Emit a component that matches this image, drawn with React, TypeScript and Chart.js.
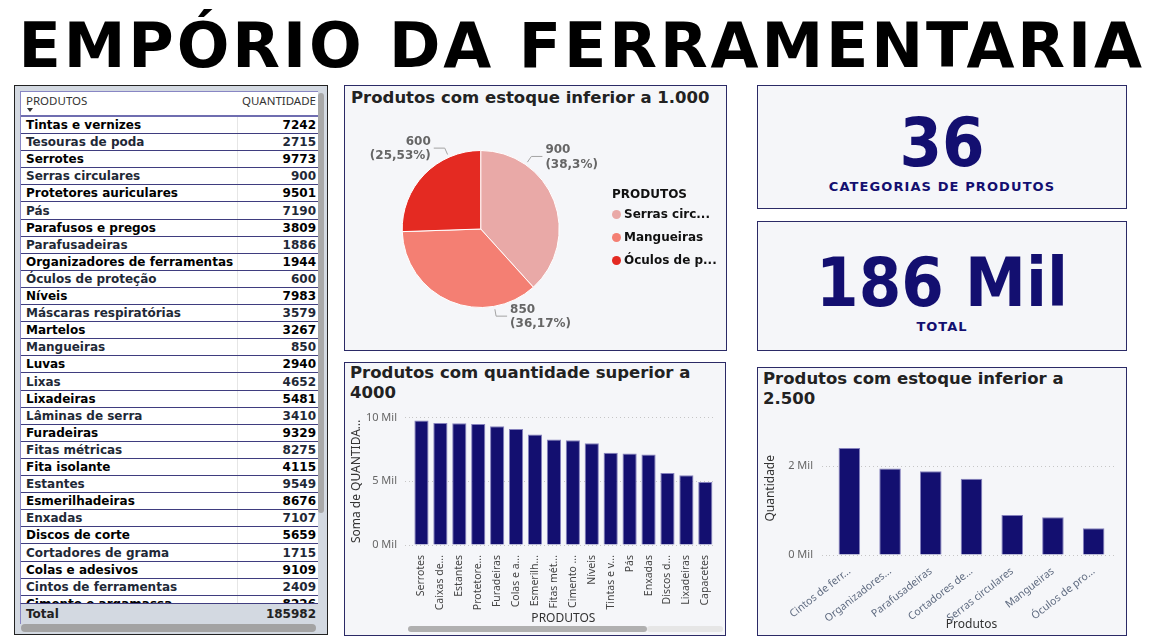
import React, { useEffect, useRef } from 'react';
import Chart from 'chart.js/auto';

// ---------- DATA ----------
const TABLE_PRODUCTS = [
  'Tintas e vernizes', 'Tesouras de poda', 'Serrotes', 'Serras circulares', 'Protetores auriculares',
  'Pás', 'Parafusos e pregos', 'Parafusadeiras', 'Organizadores de ferramentas', 'Óculos de proteção',
  'Níveis', 'Máscaras respiratórias', 'Martelos', 'Mangueiras', 'Luvas', 'Lixas', 'Lixadeiras',
  'Lâminas de serra', 'Furadeiras', 'Fitas métricas', 'Fita isolante', 'Estantes', 'Esmerilhadeiras',
  'Enxadas', 'Discos de corte', 'Cortadores de grama', 'Colas e adesivos', 'Cintos de ferramentas',
  'Cimento e argamassa',
];
const TABLE_QTY = [
  7242, 2715, 9773, 900, 9501, 7190, 3809, 1886, 1944, 600, 7983, 3579, 3267, 850, 2940, 4652, 5481,
  3410, 9329, 8275, 4115, 9549, 8676, 7107, 5659, 1715, 9109, 2409, 8226,
];
const TABLE_TOTAL = 185982;
const CATEGORY_COUNT = 36;

const PIE_PRODUCTS = ['Serras circulares', 'Mangueiras', 'Óculos de proteção'];
const PIE_LEGEND = ['Serras circ...', 'Mangueiras', 'Óculos de p...'];
const PIE_VALUES = [900, 850, 600];

const TOP_PRODUCTS = [
  'Serrotes', 'Caixas de ferramentas', 'Estantes', 'Protetores auriculares', 'Furadeiras',
  'Colas e adesivos', 'Esmerilhadeiras', 'Fitas métricas', 'Cimento e argamassa', 'Níveis',
  'Tintas e vernizes', 'Pás', 'Enxadas', 'Discos de corte', 'Lixadeiras', 'Capacetes',
];
const TOP_TICKS = [
  'Serrotes', 'Caixas de...', 'Estantes', 'Protetore...', 'Furadeiras', 'Colas e a...', 'Esmerilh...',
  'Fitas mét...', 'Cimento ...', 'Níveis', 'Tintas e v...', 'Pás', 'Enxadas', 'Discos d...',
  'Lixadeiras', 'Capacetes',
];
const TOP_VALUES = [9773, 9570, 9549, 9501, 9329, 9109, 8676, 8275, 8226, 7983, 7242, 7190, 7107, 5659, 5481, 4950];

const LOW_PRODUCTS = [
  'Cintos de ferramentas', 'Organizadores de ferramentas', 'Parafusadeiras', 'Cortadores de grama',
  'Serras circulares', 'Mangueiras', 'Óculos de proteção',
];
const LOW_TICKS = [
  'Cintos de ferr...', 'Organizadores...', 'Parafusadeiras', 'Cortadores de...', 'Serras circulares',
  'Mangueiras', 'Óculos de pro...',
];
const LOW_VALUES = [2409, 1944, 1886, 1715, 900, 850, 600];

// ---------- STYLE ----------
const NAVY = '#130f70';
const BAR_EDGE = '#8581bd';
const PIE_COLORS = ['#e9a9a7', '#f47f73', '#e42a22'];
const PIE_LABEL_SHIFT_DEG = [-34, -33, 22];
const PANEL_BG = '#f5f6f9';
const PANEL_BORDER = '#2b2a66';
const DEJAVU = '"DejaVu Sans", Verdana, sans-serif';
const NOTO = '"Noto Sans", "Open Sans", sans-serif';

const milTick = (v: any) => `${Number(v) / 1000} Mil`;

const pieLabelPlugin = {
  id: 'pieLabels',
  afterDatasetsDraw(chart: any) {
    const meta = chart.getDatasetMeta(0);
    const values: number[] = chart.data.datasets[0].data;
    const total = values.reduce((a, b) => a + b, 0);
    const ctx = chart.ctx;
    ctx.save();
    meta.data.forEach((arc: any, i: number) => {
      const p = arc.getProps(['x', 'y', 'startAngle', 'endAngle', 'outerRadius'], true);
      const a = (p.startAngle + p.endAngle) / 2 + (PIE_LABEL_SHIFT_DEG[i] * Math.PI) / 180;
      const c = Math.cos(a);
      const s = Math.sin(a);
      const x0 = p.x + c * (p.outerRadius + 3);
      const y0 = p.y + s * (p.outerRadius + 3);
      const x1 = p.x + c * (p.outerRadius + 10);
      const y1 = p.y + s * (p.outerRadius + 10);
      const dir = c >= 0 ? 1 : -1;
      const x2 = x1 + dir * 11;
      ctx.strokeStyle = '#a3a3a3';
      ctx.lineWidth = 1;
      ctx.beginPath();
      ctx.moveTo(x0, y0);
      ctx.lineTo(x1, y1);
      ctx.lineTo(x2, y1);
      ctx.stroke();
      ctx.fillStyle = '#666666';
      ctx.font = `bold 12px ${DEJAVU}`;
      ctx.textAlign = dir > 0 ? 'left' : 'right';
      ctx.textBaseline = 'middle';
      const pct = ((values[i] / total) * 100).toFixed(2).replace(/\.?0+$/, '').replace('.', ',');
      ctx.fillText(String(values[i]), x2 + dir * 3, y1 - 6.5);
      ctx.fillText(`(${pct}%)`, x2 + dir * 3, y1 + 8);
    });
    ctx.restore();
  },
};

function ChartBox({ style, build }: { style: React.CSSProperties; build: () => any }) {
  const ref = useRef<HTMLCanvasElement | null>(null);
  useEffect(() => {
    const chart = new Chart(ref.current as HTMLCanvasElement, build());
    return () => chart.destroy();
  }, []);
  return (
    <div style={{ position: 'absolute', ...style }}>
      <canvas ref={ref} />
    </div>
  );
}

const pieConfig = () => ({
  type: 'pie',
  data: {
    labels: PIE_PRODUCTS,
    datasets: [{ data: PIE_VALUES, backgroundColor: PIE_COLORS, borderColor: '#ffffff', borderWidth: 1 }],
  },
  options: {
    animation: false,
    responsive: true,
    maintainAspectRatio: false,
    layout: { padding: { left: 55.7, right: 166.3, top: 40, bottom: 40 } },
    plugins: { legend: { display: false }, tooltip: { enabled: false } },
  },
  plugins: [pieLabelPlugin],
});

const topConfig = () => ({
  type: 'bar',
  data: {
    labels: TOP_TICKS,
    datasets: [{
      label: 'Soma de QUANTIDADE',
      data: TOP_VALUES,
      backgroundColor: NAVY,
      borderColor: BAR_EDGE,
      borderWidth: 1,
      barPercentage: 0.75,
      categoryPercentage: 1,
    }],
  },
  options: {
    animation: false,
    responsive: true,
    maintainAspectRatio: false,
    layout: { padding: { top: 9, right: 3, left: 0, bottom: 0 } },
    plugins: { legend: { display: false }, tooltip: { enabled: false } },
    scales: {
      x: {
        grid: { display: false },
        border: { display: false },
        ticks: { autoSkip: false, minRotation: 90, maxRotation: 90, color: '#444', font: { family: NOTO, size: 10.5 }, padding: 2 },
        title: { display: true, text: 'PRODUTOS', color: '#333', font: { family: NOTO, size: 12 }, padding: { top: 0, bottom: 1 } },
        afterFit: (s: any) => { s.height = 82; },
      },
      y: {
        min: 0,
        max: 10000,
        ticks: { stepSize: 5000, color: '#666', font: { family: NOTO, size: 11 }, callback: milTick, padding: 8 },
        grid: { color: '#c6c6c6', drawTicks: true, tickLength: 7, tickColor: '#c6c6c6', tickBorderDash: [1, 3] },
        border: { display: false, dash: [1, 3] },
        title: { display: true, text: 'Soma de QUANTIDA...', color: '#333', font: { family: NOTO, size: 12 }, padding: { top: 3, bottom: 0 } },
        afterFit: (s: any) => { s.width = 66; },
      },
    },
  },
});

const lowConfig = () => ({
  type: 'bar',
  data: {
    labels: LOW_TICKS,
    datasets: [{
      label: 'Quantidade',
      data: LOW_VALUES,
      backgroundColor: NAVY,
      borderColor: BAR_EDGE,
      borderWidth: 1,
      barPercentage: 0.53,
      categoryPercentage: 1,
    }],
  },
  options: {
    animation: false,
    responsive: true,
    maintainAspectRatio: false,
    layout: { padding: { top: 5, right: 3, left: 0, bottom: 0 } },
    plugins: { legend: { display: false }, tooltip: { enabled: false } },
    scales: {
      x: {
        grid: { display: false },
        border: { display: false },
        ticks: { autoSkip: false, minRotation: 38, maxRotation: 38, color: '#5f6b80', font: { family: NOTO, size: 10.5 }, padding: 2 },
        title: { display: true, text: 'Produtos', color: '#333', font: { family: NOTO, size: 12 }, padding: { top: 0, bottom: 3 } },
        afterFit: (s: any) => { s.height = 80; },
      },
      y: {
        min: 0,
        max: 3000,
        afterBuildTicks: (s: any) => { s.ticks = [{ value: 0 }, { value: 2000 }]; },
        ticks: { color: '#666', font: { family: NOTO, size: 11 }, callback: milTick, padding: 9 },
        grid: { color: '#c6c6c6', drawTicks: true, tickLength: 7, tickColor: '#c6c6c6', tickBorderDash: [1, 3] },
        border: { display: false, dash: [1, 3] },
        title: { display: true, text: 'Quantidade', color: '#333', font: { family: NOTO, size: 12 }, padding: { top: 3, bottom: 0 } },
        afterFit: (s: any) => { s.width = 69; },
      },
    },
  },
});

const abs = (l: number, t: number, w: number, h: number): React.CSSProperties => ({
  position: 'absolute', left: l, top: t, width: w, height: h, boxSizing: 'border-box',
});

const panel = (l: number, t: number, w: number, h: number): React.CSSProperties => ({
  ...abs(l, t, w, h), background: PANEL_BG, border: `1px solid ${PANEL_BORDER}`,
});

const chartTitle: React.CSSProperties = {
  position: 'absolute', fontFamily: DEJAVU, fontWeight: 'bold', fontSize: 16.5, color: '#222',
  lineHeight: '20.5px', whiteSpace: 'nowrap',
};

function DataTable() {
  const rowH = 17.1;
  return (
    <div style={{ ...abs(14, 85, 314, 550), background: '#d3d9e1', border: '1px solid #222' }}>
      <div style={{ ...abs(5, 5, 298, 513), background: '#fff', borderLeft: '1px solid #8886c4', borderTop: '1px solid #8886c4', overflow: 'hidden' }}>
        <div style={{ ...abs(0, 0, 297, 25), borderBottom: '2px solid #6f6db0' }}>
          <div style={{ position: 'absolute', left: 5, top: 2, fontFamily: NOTO, fontSize: 11.5, color: '#333', lineHeight: '14px' }}>PRODUTOS</div>
          <div style={{ position: 'absolute', right: 2, top: 2, fontFamily: NOTO, fontSize: 11.5, color: '#333', lineHeight: '14px' }}>QUANTIDADE</div>
          <div style={{ position: 'absolute', left: 6, top: 16, width: 0, height: 0, borderLeft: '3.5px solid transparent', borderRight: '3.5px solid transparent', borderTop: '4px solid #333' }} />
        </div>
        <div style={{ position: 'absolute', left: 216, top: 25, width: 1, height: 490, background: '#e6e6e6' }} />
        {TABLE_PRODUCTS.map((name, i) => (
          <div key={name} style={{ ...abs(0, 25 + i * rowH, 297, rowH), borderBottom: '1px solid #3f3d7f', fontFamily: DEJAVU, fontWeight: 'bold', fontSize: 12, color: i % 2 === 0 ? '#000' : '#1f2937', lineHeight: '16px' }}>
            <span style={{ position: 'absolute', left: 5, top: 0 }}>{name}</span>
            <span style={{ position: 'absolute', right: 2, top: 0 }}>{TABLE_QTY[i]}</span>
          </div>
        ))}
      </div>
      <div style={{ ...abs(5, 517, 298, 21), background: '#d3d9e1', borderTop: '1px solid #3f3d7f', borderLeft: '1px solid #8886c4', fontFamily: DEJAVU, fontWeight: 'bold', fontSize: 12, color: '#222', lineHeight: '20px' }}>
        <span style={{ position: 'absolute', left: 5, top: 0 }}>Total</span>
        <span style={{ position: 'absolute', right: 2, top: 0 }}>{TABLE_TOTAL}</span>
      </div>
      <div style={{ ...abs(303, 7, 6, 420), background: '#a8a8a8', borderRadius: 3 }} />
      <div style={{ ...abs(6, 538, 295, 8), background: '#a3a3a3', borderRadius: 4 }} />
    </div>
  );
}

export default function App() {
  useEffect(() => {
    document.body.style.margin = '0';
  }, []);
  const totalLabel = `${Math.round(TABLE_TOTAL / 1000)} Mil`;
  return (
    <div style={{ position: 'absolute', left: 0, top: 0, width: 1150, height: 644, background: '#fff', overflow: 'hidden' }}>
      <div style={{ position: 'absolute', left: 18.5, top: 14.5, fontFamily: DEJAVU, fontWeight: 'bold', fontSize: 62, lineHeight: '62px', letterSpacing: 2.9, color: '#000', whiteSpace: 'nowrap' }}>
        EMPÓRIO DA FERRAMENTARIA
      </div>

      <DataTable />

      {/* Pie panel */}
      <div style={panel(344, 85, 383, 266)} />
      <div style={{ ...chartTitle, left: 351, top: 87.5 }}>Produtos com estoque inferior a 1.000</div>
      <ChartBox style={{ left: 346, top: 110, width: 380, height: 238 }} build={pieConfig} />
      <div style={{ position: 'absolute', left: 612, top: 187, fontFamily: DEJAVU, fontWeight: 'bold', fontSize: 12, lineHeight: '15px', color: '#111' }}>PRODUTOS</div>
      {PIE_LEGEND.map((t, i) => (
        <div key={t} style={{ position: 'absolute', left: 612, top: 206 + i * 23, height: 16, display: 'flex', alignItems: 'center', fontFamily: DEJAVU, fontWeight: 'bold', fontSize: 12, color: '#111', whiteSpace: 'nowrap' }}>
          <span style={{ width: 9, height: 9, borderRadius: '50%', background: PIE_COLORS[i], marginRight: 3 }} />
          {t}
        </div>
      ))}

      {/* Top bar panel */}
      <div style={panel(344, 362, 382, 274)} />
      <div style={{ ...chartTitle, left: 350, top: 362.75 }}>Produtos com quantidade superior a<br />4000</div>
      <ChartBox style={{ left: 346, top: 403, width: 374, height: 224 }} build={topConfig} />
      <div style={{ ...abs(647, 626, 76, 6), background: '#e6e6e6', borderRadius: 3 }} />
      <div style={{ ...abs(408, 626, 239, 6), background: '#b0b0b0', borderRadius: 3 }} />

      {/* KPI cards */}
      <div style={panel(757, 85, 370, 124)} />
      <div style={{ position: 'absolute', left: 757, width: 370, top: 109, textAlign: 'center', fontFamily: DEJAVU, fontWeight: 'bold', fontSize: 68, lineHeight: '68px', color: NAVY, transform: 'scaleX(0.9)' }}>{CATEGORY_COUNT}</div>
      <div style={{ position: 'absolute', left: 757, width: 370, top: 180, textAlign: 'center', fontFamily: DEJAVU, fontWeight: 'bold', fontSize: 13, lineHeight: '13px', letterSpacing: 1.1, color: NAVY }}>CATEGORIAS DE PRODUTOS</div>

      <div style={panel(757, 221, 370, 130)} />
      <div style={{ position: 'absolute', left: 757, width: 370, top: 249, textAlign: 'center', fontFamily: DEJAVU, fontWeight: 'bold', fontSize: 68, lineHeight: '68px', color: NAVY, transform: 'scaleX(0.9)', whiteSpace: 'nowrap' }}>{totalLabel}</div>
      <div style={{ position: 'absolute', left: 757, width: 370, top: 319.5, textAlign: 'center', fontFamily: DEJAVU, fontWeight: 'bold', fontSize: 13, lineHeight: '13px', letterSpacing: 1, color: NAVY }}>TOTAL</div>

      {/* Low stock bar panel */}
      <div style={panel(757, 367, 370, 269)} />
      <div style={{ ...chartTitle, left: 763, top: 368.75 }}>Produtos com estoque inferior a<br />2.500</div>
      <ChartBox style={{ left: 760, top: 406, width: 357, height: 229 }} build={lowConfig} />
    </div>
  );
}
